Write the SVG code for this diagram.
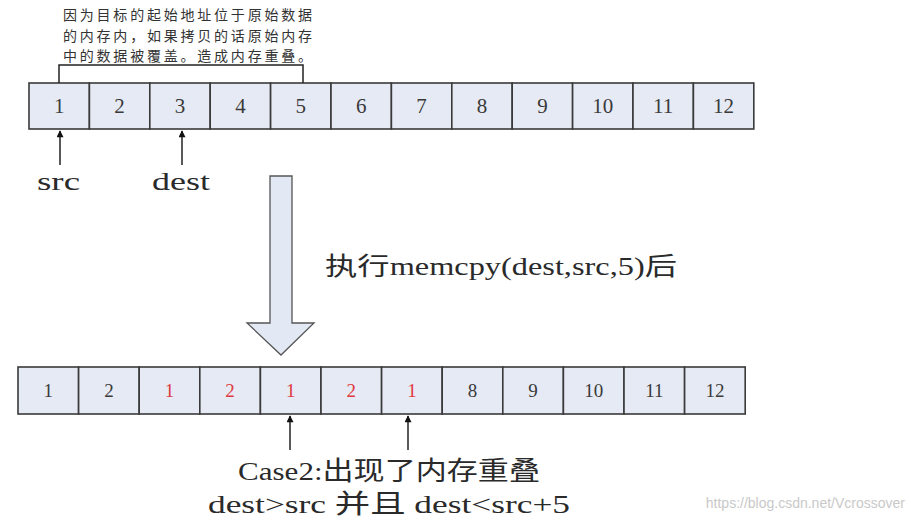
<svg xmlns="http://www.w3.org/2000/svg" width="911" height="525" viewBox="0 0 911 525">
<style>
.cell{fill:#e6eaf5;stroke:#3a3a3a;stroke-width:1.6}
.num{font-family:"Liberation Serif","Noto Sans CJK SC",serif;fill:#3a3a3a;text-anchor:middle}
.top .num{font-size:21px}
.bot .num{font-size:19px}
.red{fill:#e0393e}
.lbl{font-family:"Liberation Serif","Noto Sans CJK SC",serif;fill:#2a2a2a}
.note{font-family:"Noto Sans CJK SC","Liberation Sans",sans-serif;font-size:14px;fill:#333}
.ptr{stroke:#222;stroke-width:1.5;fill:none}
</style>
<defs>
<marker id="ah" viewBox="0 0 10 10" refX="9" refY="5" markerWidth="8" markerHeight="7" orient="auto-start-reverse" markerUnits="userSpaceOnUse">
<path d="M0,0 L10,5 L0,10 z" fill="#111"/>
</marker>
</defs>
<rect width="911" height="525" fill="#fff"/>

<g id="note">
<text class="note" x="63" y="20" textLength="249" lengthAdjust="spacing">因为目标的起始地址位于原始数据</text>
<text class="note" x="63" y="40.5" textLength="249" lengthAdjust="spacing">的内存内，如果拷贝的话原始内存</text>
<text class="note" x="63" y="61" textLength="249" lengthAdjust="spacing">中的数据被覆盖。造成内存重叠。</text>
</g>

<g id="top-row" class="top">
<rect class="cell" x="29" y="83" width="60.4" height="46"/>
<rect class="cell" x="89.4" y="83" width="60.4" height="46"/>
<rect class="cell" x="149.8" y="83" width="60.4" height="46"/>
<rect class="cell" x="210.2" y="83" width="60.4" height="46"/>
<rect class="cell" x="270.6" y="83" width="60.4" height="46"/>
<rect class="cell" x="331" y="83" width="60.4" height="46"/>
<rect class="cell" x="391.4" y="83" width="60.4" height="46"/>
<rect class="cell" x="451.8" y="83" width="60.4" height="46"/>
<rect class="cell" x="512.2" y="83" width="60.4" height="46"/>
<rect class="cell" x="572.6" y="83" width="60.4" height="46"/>
<rect class="cell" x="633" y="83" width="60.4" height="46"/>
<rect class="cell" x="693.4" y="83" width="60.4" height="46"/>
<text class="num" x="59.2" y="113">1</text>
<text class="num" x="119.6" y="113">2</text>
<text class="num" x="180" y="113">3</text>
<text class="num" x="240.4" y="113">4</text>
<text class="num" x="300.8" y="113">5</text>
<text class="num" x="361.2" y="113">6</text>
<text class="num" x="421.6" y="113">7</text>
<text class="num" x="482" y="113">8</text>
<text class="num" x="542.4" y="113">9</text>
<text class="num" x="602.8" y="113">10</text>
<text class="num" x="663.2" y="113">11</text>
<text class="num" x="723.6" y="113">12</text>
</g>

<g id="bottom-row" class="bot">
<rect class="cell" x="18" y="367" width="60.6" height="47"/>
<rect class="cell" x="78.6" y="367" width="60.6" height="47"/>
<rect class="cell" x="139.2" y="367" width="60.6" height="47"/>
<rect class="cell" x="199.8" y="367" width="60.6" height="47"/>
<rect class="cell" x="260.4" y="367" width="60.6" height="47"/>
<rect class="cell" x="321" y="367" width="60.6" height="47"/>
<rect class="cell" x="381.6" y="367" width="60.6" height="47"/>
<rect class="cell" x="442.2" y="367" width="60.6" height="47"/>
<rect class="cell" x="502.8" y="367" width="60.6" height="47"/>
<rect class="cell" x="563.4" y="367" width="60.6" height="47"/>
<rect class="cell" x="624" y="367" width="60.6" height="47"/>
<rect class="cell" x="684.6" y="367" width="60.6" height="47"/>
<text class="num" x="48.3" y="397">1</text>
<text class="num" x="108.9" y="397">2</text>
<text class="num red" x="169.5" y="397">1</text>
<text class="num red" x="230.1" y="397">2</text>
<text class="num red" x="290.7" y="397">1</text>
<text class="num red" x="351.3" y="397">2</text>
<text class="num red" x="411.9" y="397">1</text>
<text class="num" x="472.5" y="397">8</text>
<text class="num" x="533.1" y="397">9</text>
<text class="num" x="593.7" y="397">10</text>
<text class="num" x="654.3" y="397">11</text>
<text class="num" x="714.9" y="397">12</text>
</g>

<g id="big-arrow">
<path d="M270,176 L292,176 L292,323 L314,323 L281,355 L247,323 L270,323 Z" fill="#e2e8f4" stroke="#555" stroke-width="1.3"/>
</g>

<g id="connectors">
<path class="ptr" d="M59,83 L59,65 L303,65 L303,83"/>
<line class="ptr" x1="60" y1="165" x2="60" y2="131" marker-end="url(#ah)"/>
<line class="ptr" x1="182" y1="165" x2="182" y2="131" marker-end="url(#ah)"/>
<line class="ptr" x1="290" y1="450" x2="290" y2="416" marker-end="url(#ah)"/>
<line class="ptr" x1="408" y1="450" x2="408" y2="416" marker-end="url(#ah)"/>
</g>

<g id="labels">
<text class="lbl" x="37" y="190" font-size="25" textLength="43" lengthAdjust="spacingAndGlyphs">src</text>
<text class="lbl" x="152" y="190" font-size="25" textLength="58" lengthAdjust="spacingAndGlyphs">dest</text>
<text class="lbl" x="325" y="275" font-size="25" textLength="352" lengthAdjust="spacingAndGlyphs">执行memcpy(dest,src,5)后</text>
<text class="lbl" x="238" y="480" font-size="26" textLength="302" lengthAdjust="spacingAndGlyphs">Case2:出现了内存重叠</text>
<text class="lbl" x="208" y="513" font-size="26" textLength="362" lengthAdjust="spacingAndGlyphs">dest&gt;src 并且 dest&lt;src+5</text>
<text x="905" y="508" font-family="Liberation Sans, sans-serif" font-size="14" fill="#c9c9c9" text-anchor="end">https://blog.csdn.net/Vcrossover</text>
</g>
</svg>
